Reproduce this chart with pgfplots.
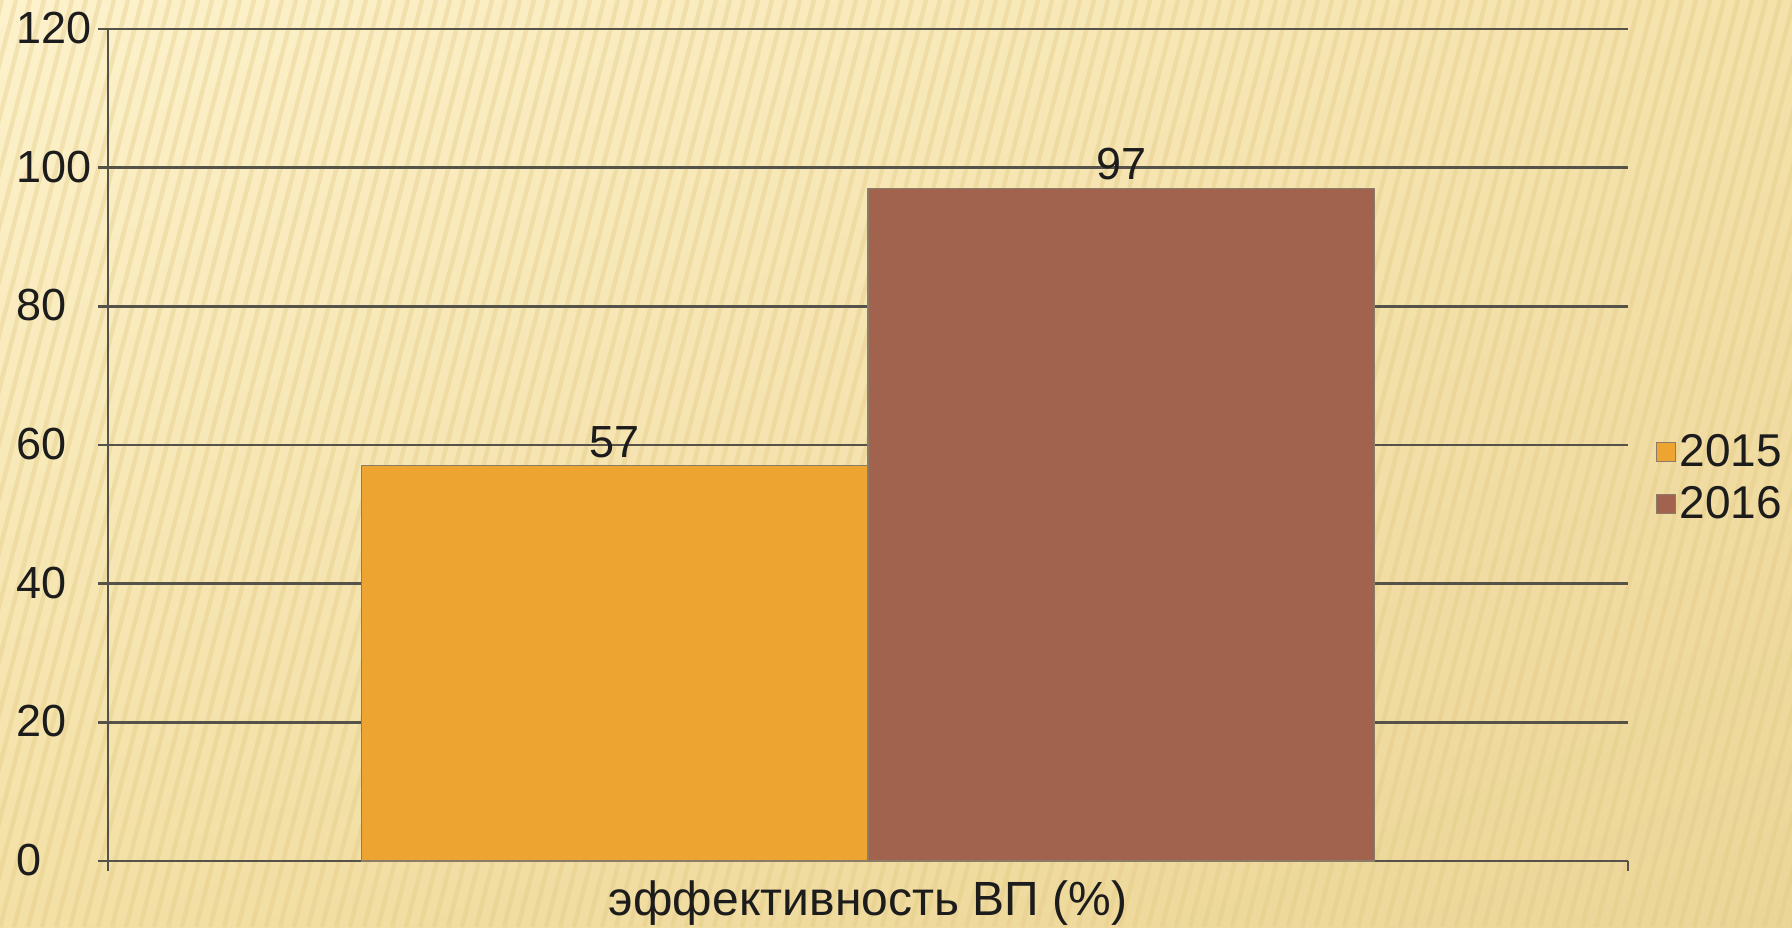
\documentclass[border=0pt]{standalone}
\usepackage{pgfplots}
\pgfplotsset{compat=1.18}
\usetikzlibrary{shadings}
\usepackage{fontspec}
\setmainfont{Liberation Sans}
\definecolor{gridc}{HTML}{55524A}
\definecolor{cA}{HTML}{EEA430}
\definecolor{cB}{HTML}{A1624E}
\definecolor{edgec}{HTML}{8C7B68}
\definecolor{txt}{HTML}{1C1C1C}
\definecolor{bgUL}{RGB}{253,242,204}
\definecolor{bgUR}{RGB}{244,226,170}
\definecolor{bgLL}{RGB}{243,224,165}
\definecolor{bgLR}{RGB}{236,213,152}
\definecolor{stripe}{RGB}{225,200,130}
\begin{document}
\begin{tikzpicture}
% background (page area: 896pt x 463.5pt, axis corner at origin)
\shade[upper left=bgUL, upper right=bgUR, lower left=bgLL, lower right=bgLR]
  (-54pt,-33pt) rectangle (842pt,430.5pt);
\begin{scope}
\clip (-54pt,-33pt) rectangle (842pt,430.5pt);
\foreach \i in {0,...,150}{
  \draw[line width=2.2pt, draw=stripe, opacity=0.35]
    ({-180pt+\i*7pt},-33pt) -- ++(120pt,463.5pt);
}
\end{scope}
\begin{axis}[
  at={(0pt,0pt)}, anchor=south west,
  scale only axis, width=760pt, height=416pt,
  xmin=-0.75, xmax=0.75, ymin=0, ymax=120,
  ytick={0,20,...,120},
  xtick={-0.75,0.75}, xticklabels={,},
  ymajorgrids,
  grid style={line width=1.3pt, gridc},
  axis x line*=bottom, axis y line*=left,
  axis line style={line width=1.3pt, gridc, -},
  tick style={line width=1.3pt, gridc},
  major tick length=5pt, tick align=outside,
  /pgf/number format/assume math mode=true,
  ticklabel style={font=\fontsize{22.5}{27}\selectfont, text=txt},
  yticklabel={\makebox[37.5pt][l]{\pgfmathprintnumber{\tick}}},
  yticklabel style={xshift=0.5pt, yshift=0.5pt},
  xlabel={эффективность ВП (\%)},
  xlabel style={at={(axis description cs:0.5,0)}, anchor=base, yshift=-27pt,
    font=\fontsize{24}{28}\selectfont, text=txt},
  ybar, bar width=0.5,
  nodes near coords,
  every node near coord/.append style={font=\fontsize{22.5}{27}\selectfont, text=txt, yshift=0.5pt},
  legend style={at={(rel axis cs:1.014,0.46)}, anchor=west, draw=none, fill=none,
    font=\fontsize{23}{27}\selectfont, text=txt, row sep=4.5pt,
    /tikz/every even column/.append style={column sep=0pt}},
  legend image code/.code={\draw[#1, draw=edgec, line width=0.5pt] (0pt,-4.75pt) rectangle (9.5pt,4.75pt);},
  legend cell align=left,
]
\addplot[fill=cA, draw=edgec, line width=0.6pt, bar shift=0pt] coordinates {(-0.25,57)};
\addplot[fill=cB, draw=edgec, line width=0.6pt, bar shift=0pt] coordinates {(0.25,97)};
\legend{2015,2016}
\end{axis}
\pgfresetboundingbox
\useasboundingbox (-54pt,-33pt) rectangle (842pt,430.5pt);
\end{tikzpicture}
\end{document}
